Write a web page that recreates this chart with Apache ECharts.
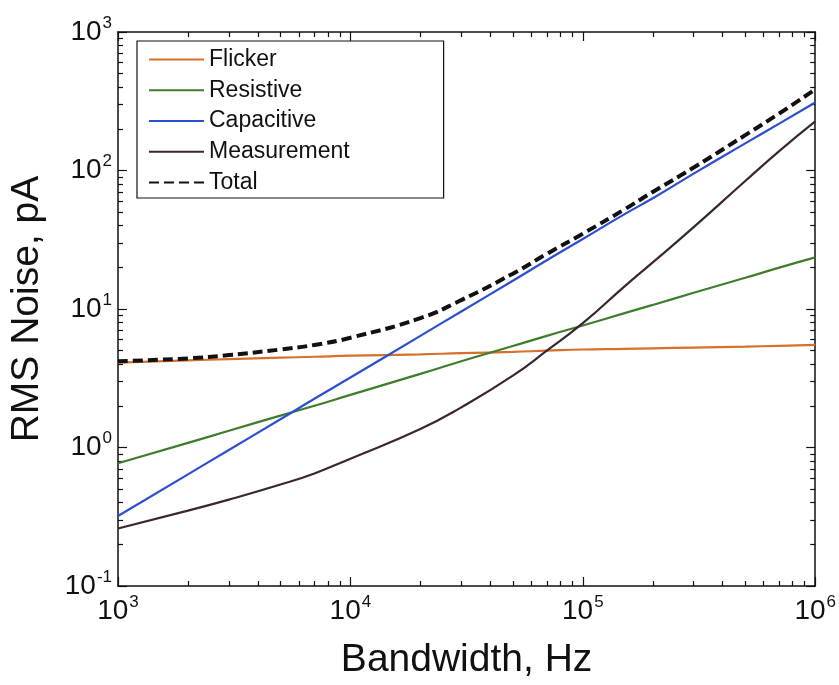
<!DOCTYPE html>
<html>
<head>
<meta charset="utf-8">
<title>RMS Noise vs Bandwidth</title>
<script src="https://cdn.jsdelivr.net/npm/echarts@6/dist/echarts.min.js"></script>
<style>
html, body { margin: 0; padding: 0; background: #fff; }
#chart { width: 839px; height: 685px; }
</style>
</head>
<body>
<div id="chart"></div>
<script>
// bandwidth points (Hz)
var bandwidth = [1e3, 2e3, 3e3, 5e3, 7e3, 1e4, 2e4, 3e4, 5e4, 7e4, 1e5, 1.5e5, 2e5, 3e5, 5e5, 7e5, 1e6];
// RMS noise, pA
var flicker = [4.1, 4.25, 4.35, 4.45, 4.52, 4.6, 4.7, 4.8, 4.9, 5.0, 5.1, 5.15, 5.2, 5.27, 5.35, 5.42, 5.5];
var resistive = [0.77, 1.08, 1.32, 1.7, 2.0, 2.4, 3.4, 4.2, 5.4, 6.4, 7.6, 9.3, 10.7, 13.1, 16.8, 19.9, 23.6];
var capacitive = [0.32, 0.64, 0.96, 1.6, 2.25, 3.2, 6.4, 9.6, 16, 22.5, 32, 48, 63, 95, 157, 218, 310];
var measurement = [0.26, 0.35, 0.42, 0.54, 0.65, 0.83, 1.36, 1.95, 3.3, 5.0, 7.9, 14.4, 21.7, 39, 84, 138, 226];
var total = [4.2, 4.4, 4.65, 5.1, 5.5, 6.2, 8.6, 11.6, 18, 25, 35, 52, 70, 105, 180, 258, 385];

var xTicks = [1e3, 1e4, 1e5, 1e6];
var yTicks = [0.1, 1, 10, 100, 1000];

// 2..9 between decades, for the short ticks
function minorOf(decades) {
    var out = [];
    for (var i = 0; i < decades.length - 1; i++) {
        for (var k = 2; k <= 9; k++) {
            out.push(+(decades[i] * k).toPrecision(3));
        }
    }
    return out;
}
var xMinor = minorOf(xTicks);
var yMinor = minorOf(yTicks);

var font = "'Liberation Sans', Arial, Helvetica, sans-serif";

function pair(ys) {
    return bandwidth.map(function (x, i) { return [x, ys[i]]; });
}

function powLabel(v) {
    var e = Math.round(Math.log10(v));
    return '{b|10}{s|' + e + '}';
}

var labelRich = {
    b: { fontSize: 28, fontFamily: font, color: '#111' },
    s: { fontSize: 17, fontFamily: font, color: '#111', padding: [0, 0, 18, 1] }
};

function xAxisDef(pos, minor) {
    return {
        type: 'log',
        position: pos,
        min: 1e3,
        max: 1e6,
        axisLine: { show: !minor, onZero: false, lineStyle: { color: '#111', width: 1.5 } },
        axisTick: {
            show: true, inside: true, length: minor ? 5 : 9,
            customValues: minor ? xMinor : xTicks,
            lineStyle: { color: '#111', width: 1.2 }
        },
        axisLabel: (pos === 'bottom' && !minor) ? {
            show: true, margin: 8, customValues: xTicks,
            formatter: powLabel, rich: labelRich
        } : { show: false },
        splitLine: { show: false },
        minorTick: { show: false },
        name: (pos === 'bottom' && !minor) ? 'Bandwidth, Hz' : '',
        nameLocation: 'middle',
        nameGap: 55,
        nameTextStyle: { fontSize: 39, fontFamily: font, color: '#111' }
    };
}

function yAxisDef(pos, minor) {
    return {
        type: 'log',
        position: pos,
        min: 0.1,
        max: 1000,
        axisLine: { show: !minor, onZero: false, lineStyle: { color: '#111', width: 1.5 } },
        axisTick: {
            show: true, inside: true, length: minor ? 5 : 9,
            customValues: minor ? yMinor : yTicks,
            lineStyle: { color: '#111', width: 1.2 }
        },
        axisLabel: (pos === 'left' && !minor) ? {
            show: true, margin: 6, customValues: yTicks,
            formatter: powLabel, rich: labelRich
        } : { show: false },
        splitLine: { show: false },
        minorTick: { show: false },
        name: (pos === 'left' && !minor) ? 'RMS Noise, pA' : '',
        nameLocation: 'middle',
        nameGap: 71,
        nameTextStyle: { fontSize: 39, fontFamily: font, color: '#111' }
    };
}

function lineSeries(name, values, color, extra) {
    var s = {
        name: name, type: 'line', data: pair(values),
        smooth: 0.5, showSymbol: false, symbol: 'none',
        color: color, lineStyle: { color: color, width: 2.2 }
    };
    return Object.assign(s, extra || {});
}

var chart = echarts.init(document.getElementById('chart'));

var option = {
    backgroundColor: '#fff',
    animation: false,
    grid: { left: 117, right: 19, top: 32, bottom: 95 },
    legend: {
        orient: 'vertical',
        left: 137,
        top: 41,
        padding: [7, 94, 4, 11],
        itemWidth: 55,
        itemHeight: 24,
        itemGap: 7.75,
        backgroundColor: '#fff',
        borderColor: '#111',
        borderWidth: 1.2,
        itemStyle: { opacity: 0 },
        textStyle: { fontSize: 23, fontFamily: font, color: '#111' },
        data: ['Flicker', 'Resistive', 'Capacitive', 'Measurement', 'Total']
    },
    xAxis: [xAxisDef('bottom', false), xAxisDef('bottom', true), xAxisDef('top', false), xAxisDef('top', true)],
    yAxis: [yAxisDef('left', false), yAxisDef('left', true), yAxisDef('right', false), yAxisDef('right', true)],
    series: [
        lineSeries('Flicker', flicker, '#D6702A'),
        lineSeries('Resistive', resistive, '#3F7D2C'),
        lineSeries('Capacitive', capacitive, '#2A4FD2'),
        lineSeries('Measurement', measurement, '#3A2630'),
        lineSeries('Total', total, '#111', { lineStyle: { color: '#111', width: 4, type: [10, 5] }, z: 3 })
    ]
};

chart.setOption(option);
</script>
</body>
</html>
